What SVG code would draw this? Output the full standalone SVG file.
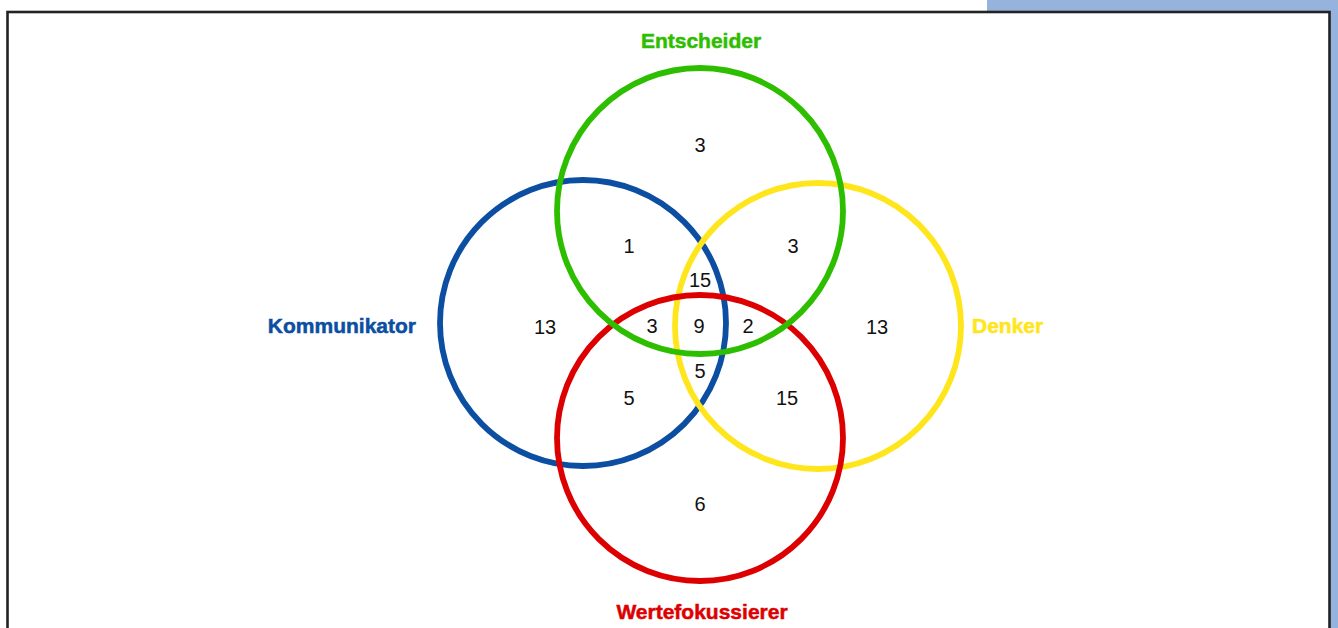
<svg xmlns="http://www.w3.org/2000/svg" width="1338" height="628" viewBox="0 0 1338 628">
<style>
.c{fill:none;stroke-width:5.8}
.lab{font-family:"Liberation Sans",Arial,sans-serif;font-weight:bold;font-size:21px;stroke-width:0.5}
.n{font-family:"Liberation Sans",Arial,sans-serif;font-size:20px;fill:#111;text-anchor:middle}
</style>
<rect x="0" y="0" width="1338" height="628" fill="#ffffff"/>
<rect x="987" y="0" width="351" height="628" fill="#95b3dd"/>
<rect x="7.5" y="12" width="1322" height="640" fill="#ffffff" stroke="#222" stroke-width="2.6"/>
<g id="kommunikator">
<circle class="c" cx="583" cy="323" r="143" stroke="#0b4ea2"/>
<text class="lab" x="416" y="333" text-anchor="end" fill="#0b4ea2" stroke="#0b4ea2">Kommunikator</text>
</g>
<g id="denker">
<circle class="c" cx="818" cy="326" r="143" stroke="#ffe51c"/>
<text class="lab" x="972" y="333" fill="#ffe51c" stroke="#ffe51c">Denker</text>
</g>
<g id="wertefokussierer">
<circle class="c" cx="700" cy="438" r="143" stroke="#dd0000"/>
<text class="lab" x="702" y="619" text-anchor="middle" fill="#dd0000" stroke="#dd0000">Wertefokussierer</text>
</g>
<g id="entscheider">
<circle class="c" cx="700" cy="211" r="143" stroke="#2dbe00"/>
<text class="lab" x="701" y="48" text-anchor="middle" fill="#2dbe00" stroke="#2dbe00">Entscheider</text>
</g>
<g id="counts">
<text class="n" x="700" y="152">3</text>
<text class="n" x="629" y="253">1</text>
<text class="n" x="793" y="253">3</text>
<text class="n" x="700" y="287">15</text>
<text class="n" x="545" y="334">13</text>
<text class="n" x="652" y="333">3</text>
<text class="n" x="699" y="333">9</text>
<text class="n" x="748" y="333">2</text>
<text class="n" x="877" y="334">13</text>
<text class="n" x="700" y="378">5</text>
<text class="n" x="629" y="405">5</text>
<text class="n" x="787" y="405">15</text>
<text class="n" x="700" y="511">6</text>
</g>
<g id="connectors"></g>
</svg>
